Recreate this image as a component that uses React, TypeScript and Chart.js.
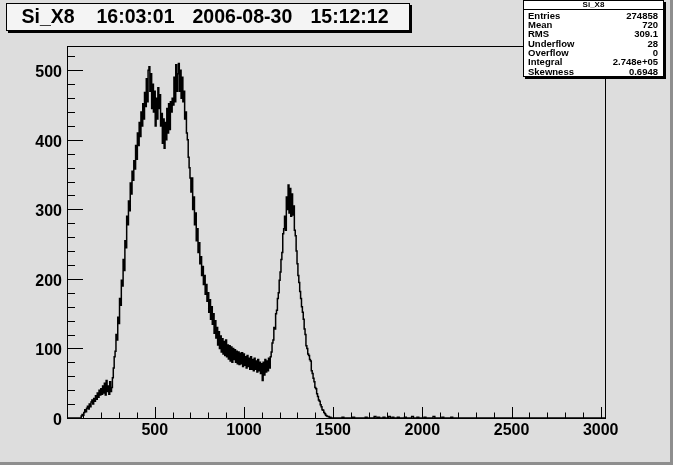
import { useEffect, useRef } from "react";
import { Chart, registerables } from "chart.js";
Chart.register(...registerables);

const TITLE_PARTS = ["Si_X8", "16:03:01", "2006-08-30", "15:12:12"];
const TITLE_X = [21.5, 96.5, 192.5, 310.5];
const STATS_NAME = "Si_X8";
const STAT_LABELS = ["Entries", "Mean", "RMS", "Underflow", "Overflow", "Integral", "Skewness"];
const STAT_VALUES = ["274858", "720", "309.1", "28", "0", "2.748e+05", "0.6948"];

const X_MIN = 8;
const X_MAX = 3024;
const Y_MIN = 0;
const Y_MAX = 535;
const X_LABELS = [500, 1000, 1500, 2000, 2500, 3000];
const Y_LABELS = [0, 100, 200, 300, 400, 500];

// main histogram contents, bins of width 5 starting at 85
const BIN_START = 85;
const BIN_WIDTH = 5;
const COUNTS = [
  // 85 - 260
  0, 3, 5, 4, 8, 12, 9, 14, 17, 13, 20, 16, 23, 26, 20, 28, 24, 32, 27, 36,
  30, 40, 33, 42, 34, 46, 36, 50, 33, 54, 38, 46, 34, 52, 38, 44,
  // 265 - 455
  58, 72, 88, 96, 120, 112, 145, 136, 172, 162, 198, 190, 228, 212, 255, 245, 290, 278, 312, 298,
  338, 322, 355, 342, 370, 358, 392, 372, 410, 392, 425, 405, 440, 420, 452, 430, 468, 448, 488,
  // 460 - 700
  455, 500, 505, 470, 495, 445, 480, 440, 470, 420, 460, 430, 475, 445, 465, 420, 438, 395, 430, 388,
  425, 400, 445, 410, 452, 415, 455, 440, 460, 450, 490, 455, 508, 470, 495, 510, 470, 500, 460, 490,
  455, 470, 430, 440, 410, 400, 375, 360, 345,
  // 705 - 900
  325, 345, 300, 318, 278, 295, 255, 272, 238, 252, 222, 232, 205, 218, 192, 205, 178, 192, 168, 180,
  152, 170, 142, 160, 135, 150, 122, 140, 115, 130, 105, 124, 100, 118, 95, 114, 92, 110, 90, 112,
  // 905 - 1145
  88, 105, 85, 104, 82, 102, 80, 100, 84, 98, 80, 96, 78, 95, 77, 93, 78, 94, 74, 92,
  76, 88, 72, 90, 74, 86, 70, 88, 70, 84, 68, 86, 70, 82, 66, 84, 68, 80, 64, 78,
  54, 80, 62, 84, 66, 82, 68, 86, 72,
  // 1150 - 1300
  88, 95, 108, 112, 130, 128, 150, 155, 172, 180, 198, 210, 228, 238, 265, 272, 290, 270, 318, 300,
  335, 295, 330, 290, 322, 292, 305, 270, 262, 240, 222,
  // 1305 - 1490
  205, 195, 182, 172, 160, 152, 142, 128, 120, 104, 100, 92, 90, 84, 82, 68, 64, 57, 52, 44,
  42, 35, 31, 26, 24, 19, 16, 12, 11, 8, 6, 4, 3, 2, 2, 1, 1, 0,
];

// sparse tail, bins of width 10 starting at 1495
const TAIL_START = 1495;
const TAIL_WIDTH = 10;
const TAIL_COUNTS = [
  0, 0, 0, 0, 0, 0, 1, 0, 0, 0, 0, 0, 1, 0, 0, 0, 0, 0, 0, 1,
  0, 0, 0, 0, 2, 0, 1, 0, 0, 1, 0, 0, 2, 0, 1, 0, 0, 1, 0, 0,
  0, 1, 0, 0, 0, 2, 0, 0, 1, 0, 0, 0, 1, 0, 0, 0, 0, 2, 0, 0,
  0, 0, 1, 0, 0, 0, 0, 1, 0, 0, 0, 0,
];

const FONT = "'Liberation Sans', Arial, Helvetica, sans-serif";
const BG = "#dddddd";

export default function App() {
  const ref = useRef<HTMLCanvasElement>(null);

  useEffect(() => {
    document.body.style.margin = "0";
    const canvas = ref.current!;
    const pts: { x: number; y: number }[] = [{ x: X_MIN, y: 0 }];
    COUNTS.forEach((c, i) => pts.push({ x: BIN_START + i * BIN_WIDTH, y: c }));
    TAIL_COUNTS.forEach((c, i) => pts.push({ x: TAIL_START + i * TAIL_WIDTH, y: c }));
    pts.push({ x: X_MAX, y: 0 });

    const decor = {
      id: "rootDecor",
      beforeDraw(chart: any) {
        const ctx = chart.ctx;
        ctx.save();
        ctx.fillStyle = BG;
        ctx.fillRect(0, 0, chart.width, chart.height);
        ctx.fillStyle = "#8e8e8e";
        ctx.fillRect(670, 0, 3, 465);
        ctx.fillRect(0, 462, 673, 3);
        ctx.restore();
      },
      afterDraw(chart: any) {
        const ctx = chart.ctx;
        const xs = chart.scales.x;
        const ys = chart.scales.y;
        const a = chart.chartArea;
        ctx.save();
        ctx.strokeStyle = "#000";
        ctx.lineWidth = 1;
        ctx.strokeRect(Math.round(a.left) + 0.5, Math.round(a.top) + 0.5, Math.round(a.right - a.left), Math.round(a.bottom - a.top));
        ctx.beginPath();
        for (let v = 0; v <= Y_MAX; v += 20) {
          const y = Math.round(ys.getPixelForValue(v)) + 0.5;
          const len = v % 100 === 0 ? 16 : 8;
          ctx.moveTo(a.left, y);
          ctx.lineTo(a.left + len, y);
        }
        for (let v = 100; v <= X_MAX; v += 100) {
          const x = Math.round(xs.getPixelForValue(v)) + 0.5;
          const len = v % 500 === 0 ? 11 : 5.5;
          ctx.moveTo(x, a.bottom);
          ctx.lineTo(x, a.bottom - len);
        }
        ctx.stroke();
        ctx.fillStyle = "#000";
        ctx.font = `bold 16px ${FONT}`;
        ctx.textBaseline = "alphabetic";
        ctx.textAlign = "right";
        Y_LABELS.forEach((v) => {
          ctx.fillText(String(v), a.left - 5, ys.getPixelForValue(v) + 7);
        });
        ctx.textAlign = "center";
        X_LABELS.forEach((v) => {
          ctx.fillText(String(v), xs.getPixelForValue(v), a.bottom + 17);
        });

        // title box
        ctx.fillStyle = "#000";
        ctx.fillRect(8, 5, 404, 28);
        ctx.fillStyle = "#f4f4f4";
        ctx.fillRect(7, 3, 403, 27);
        ctx.strokeStyle = "#000";
        ctx.lineWidth = 1;
        ctx.strokeRect(6.5, 3.5, 403, 27);
        ctx.fillStyle = "#000";
        ctx.font = `bold 19.5px ${FONT}`;
        ctx.textAlign = "left";
        TITLE_PARTS.forEach((t, i) => ctx.fillText(t, TITLE_X[i], 23));

        // stats box
        const bx = 523, by = 0, bw = 141, bh = 77;
        ctx.fillStyle = "#000";
        ctx.fillRect(bx + 2, by + 2, bw, bh);
        ctx.fillStyle = "#ffffff";
        ctx.fillRect(bx, by, bw, bh);
        ctx.strokeRect(bx + 0.5, by + 0.5, bw - 1, bh - 1);
        ctx.beginPath();
        ctx.moveTo(bx, 9.5);
        ctx.lineTo(bx + bw, 9.5);
        ctx.stroke();
        ctx.fillStyle = "#000";
        ctx.font = `bold 8px ${FONT}`;
        ctx.textAlign = "center";
        ctx.fillText(STATS_NAME, bx + bw / 2, 7);
        ctx.font = `bold 9.5px ${FONT}`;
        const rowY = [19, 28, 36.5, 47, 56, 64.5, 74.5];
        STAT_LABELS.forEach((l, i) => {
          ctx.textAlign = "left";
          ctx.fillText(l, bx + 5, rowY[i]);
          ctx.textAlign = "right";
          ctx.fillText(STAT_VALUES[i], bx + bw - 6, rowY[i]);
        });
        ctx.restore();
      },
    };

    const chart = new Chart(canvas, {
      type: "line",
      data: {
        datasets: [
          {
            data: pts,
            borderColor: "#000",
            borderWidth: 1.5,
            pointRadius: 0,
            stepped: "middle",
            fill: false,
          },
        ],
      },
      options: {
        responsive: false,
        animation: false,
        layout: { padding: { left: 67, top: 46, right: 68, bottom: 47 } },
        plugins: { legend: { display: false }, tooltip: { enabled: false }, title: { display: false } },
        scales: {
          x: { type: "linear", min: X_MIN, max: X_MAX, display: false },
          y: { type: "linear", min: Y_MIN, max: Y_MAX, display: false },
        },
      },
      plugins: [decor],
    });
    return () => chart.destroy();
  }, []);

  return <canvas ref={ref} width={673} height={465} style={{ display: "block", width: 673, height: 465 }} />;
}
